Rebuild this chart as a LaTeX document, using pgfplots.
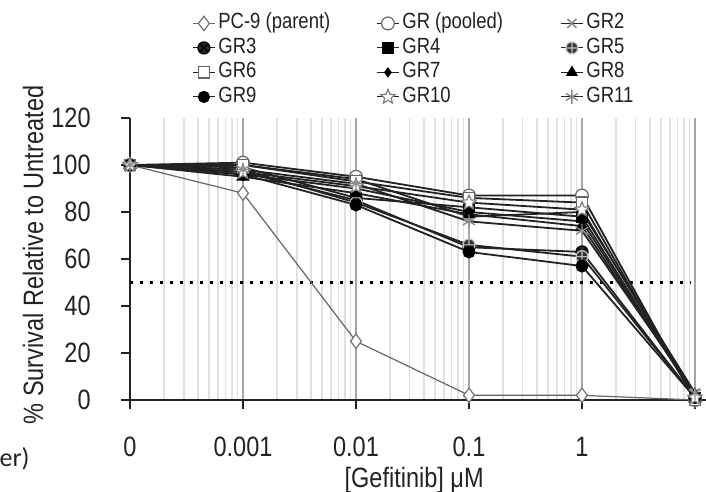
\documentclass[border=0pt]{standalone}
\usepackage{fontspec}
\setmainfont{Liberation Sans}[FakeStretch=0.84]
\newfontfamily\notefont{Carlito}
\usepackage{pgfplots}
\pgfplotsset{compat=1.18}

% open five-pointed star
\pgfdeclareplotmark{ostar}{%
  \pgfpathmoveto{\pgfpointpolar{90}{\pgfplotmarksize}}%
  \pgfpathlineto{\pgfpointpolar{126}{0.45\pgfplotmarksize}}%
  \pgfpathlineto{\pgfpointpolar{162}{\pgfplotmarksize}}%
  \pgfpathlineto{\pgfpointpolar{198}{0.45\pgfplotmarksize}}%
  \pgfpathlineto{\pgfpointpolar{234}{\pgfplotmarksize}}%
  \pgfpathlineto{\pgfpointpolar{270}{0.45\pgfplotmarksize}}%
  \pgfpathlineto{\pgfpointpolar{306}{\pgfplotmarksize}}%
  \pgfpathlineto{\pgfpointpolar{342}{0.45\pgfplotmarksize}}%
  \pgfpathlineto{\pgfpointpolar{18}{\pgfplotmarksize}}%
  \pgfpathlineto{\pgfpointpolar{54}{0.45\pgfplotmarksize}}%
  \pgfpathclose
  \pgfusepathqfillstroke}

\definecolor{ink}{HTML}{222222}

\begin{document}
\begin{tikzpicture}[x=1pt,y=1pt]
\useasboundingbox (0,0) rectangle (353,246);
\clip (0,0) rectangle (353,246);
\begin{axis}[
  at={(65pt,46pt)}, anchor=south west,
  scale only axis, width=288.15pt, height=141pt,
  xmin=0, xmax=5.1, ymin=0, ymax=120,
  clip=false,
  axis lines=left,
  axis line style={-, line width=0.9pt, ink},
  tick align=outside,
  major tick length=4.5pt,
  minor tick length=0pt,
  tick style={ink, line width=0.9pt},
  xtick={0,1,2,3,4,5},
  xticklabels={0,0.001,0.01,0.1,1,},
  minor xtick={0.301,0.477,0.602,0.699,0.778,0.845,0.903,0.954,
               1.301,1.477,1.602,1.699,1.778,1.845,1.903,1.954,
               2.301,2.477,2.602,2.699,2.778,2.845,2.903,2.954,
               3.301,3.477,3.602,3.699,3.778,3.845,3.903,3.954,
               4.301,4.477,4.602,4.699,4.778,4.845,4.903,4.954},
  ytick={0,20,40,60,80,100,120},
  xmajorgrids, xminorgrids,
  major grid style={black!35, line width=0.9pt},
  minor grid style={black!12, line width=0.6pt},
  /pgf/number format/assume math mode=true,
  ticklabel style={font=\fontsize{14}{16}\selectfont, text=ink},
  xticklabel style={inner sep=0pt, anchor=north, yshift=-14pt},
  yticklabel style={inner sep=0pt, anchor=east, xshift=-15pt},
  xlabel={[Gefitinib] μM},
  ylabel={\% Survival Relative to Untreated},
  every axis x label/.style={at={(axis description cs:0.493,-0.283)}, anchor=center, inner sep=0pt, font=\fontsize{14}{16}\selectfont, text=ink},
  every axis y label/.style={at={(axis description cs:-0.168,0.514)}, rotate=90, anchor=center, font=\fontsize{14}{16}\selectfont, text=ink},
  legend columns=3,
  legend style={at={(axis description cs:0.1076,1.374)}, anchor=north west,
    draw=none, fill=none, inner sep=0pt, row sep=1.75pt,
    font=\fontsize{11}{12}\selectfont, text=ink,
    nodes={inner sep=0pt, text height=8pt, text depth=2.5pt, anchor=west},
    /tikz/every odd column/.append style={column sep=1.5pt},
    /tikz/every even column/.append style={column sep=4pt}},
  legend image code/.code={\draw[mark repeat=2,mark phase=2,line width=0.5pt] plot coordinates {(0pt,0pt) (5.5pt,0pt) (11pt,0pt)};},
  every axis plot/.append style={ink, line width=0.9pt, mark size=3pt},
]
% 50 % survival reference
\addplot[forget plot, mark=none, black, line width=1.6pt, dash pattern=on 1.6pt off 3.4pt] coordinates {(0,50) (4.96,50)};

\addplot[black!60, line width=0.6pt, mark=diamond*, mark size=3.6pt, mark options={fill=white, draw=black!55, line width=0.6pt}]
  coordinates {(0,100) (1,88) (2,25) (3,2) (4,2) (5,0)};
\addlegendentry{\makebox[75pt][l]{PC-9 (parent)}}

\addplot[mark=*, mark size=3.2pt, mark options={fill=white, draw=black!60, line width=0.6pt}]
  coordinates {(0,100) (1,101) (2,95) (3,87) (4,87) (5,0)};
\addlegendentry{\makebox[75pt][l]{GR (pooled)}}

\addplot[mark=x, mark size=3.2pt, mark options={draw=black!45, line width=0.8pt}]
  coordinates {(0,100) (1,100) (2,94) (3,78) (4,80) (5,3)};
\addlegendentry{\makebox[75pt][l]{GR2}}

\addplot[mark=otimes*, mark options={fill=black!85, draw=black, line width=0.6pt}]
  coordinates {(0,100) (1,97) (2,85) (3,65) (4,63) (5,1)};
\addlegendentry{\makebox[75pt][l]{GR3}}

\addplot[mark=square*, mark size=2.6pt, mark options={fill=black, draw=black}]
  coordinates {(0,100) (1,99) (2,86) (3,82) (4,78) (5,1)};
\addlegendentry{\makebox[75pt][l]{GR4}}

\addplot[mark=oplus*, mark options={fill=black!80, draw=black!25, line width=0.6pt}]
  coordinates {(0,100) (1,98) (2,84) (3,66) (4,61) (5,1)};
\addlegendentry{\makebox[75pt][l]{GR5}}

\addplot[mark=square*, mark size=2.8pt, mark options={fill=white, draw=black!60, line width=0.6pt}]
  coordinates {(0,100) (1,100) (2,93) (3,86) (4,84) (5,0)};
\addlegendentry{\makebox[75pt][l]{GR6}}

\addplot[mark=diamond*, mark size=2.2pt, mark options={fill=black, draw=black}]
  coordinates {(0,100) (1,96) (2,90) (3,80) (4,76) (5,2)};
\addlegendentry{\makebox[75pt][l]{GR7}}

\addplot[mark=triangle*, mark size=3pt, mark options={fill=black, draw=black}]
  coordinates {(0,100) (1,95) (2,88) (3,79) (4,74) (5,2)};
\addlegendentry{\makebox[75pt][l]{GR8}}

\addplot[mark=*, mark size=2.8pt, mark options={fill=black, draw=black}]
  coordinates {(0,100) (1,96) (2,83) (3,63) (4,57) (5,1)};
\addlegendentry{\makebox[75pt][l]{GR9}}

\addplot[mark=ostar, mark size=3.8pt, mark options={fill=white, draw=black!50, line width=0.6pt}]
  coordinates {(0,100) (1,97) (2,91) (3,84) (4,81) (5,1)};
\addlegendentry{\makebox[75pt][l]{GR10}}

\addplot[mark=asterisk, mark size=3.5pt, mark options={draw=black!45, line width=0.7pt}]
  coordinates {(0,100) (1,98) (2,92) (3,76) (4,72) (5,3)};
\addlegendentry{\makebox[75pt][l]{GR11}}
\end{axis}
\node[anchor=east, inner sep=0pt, font=\notefont\fontsize{13}{15}\selectfont, text=ink] at (15pt,16.5pt) {er)};
\end{tikzpicture}
\end{document}
